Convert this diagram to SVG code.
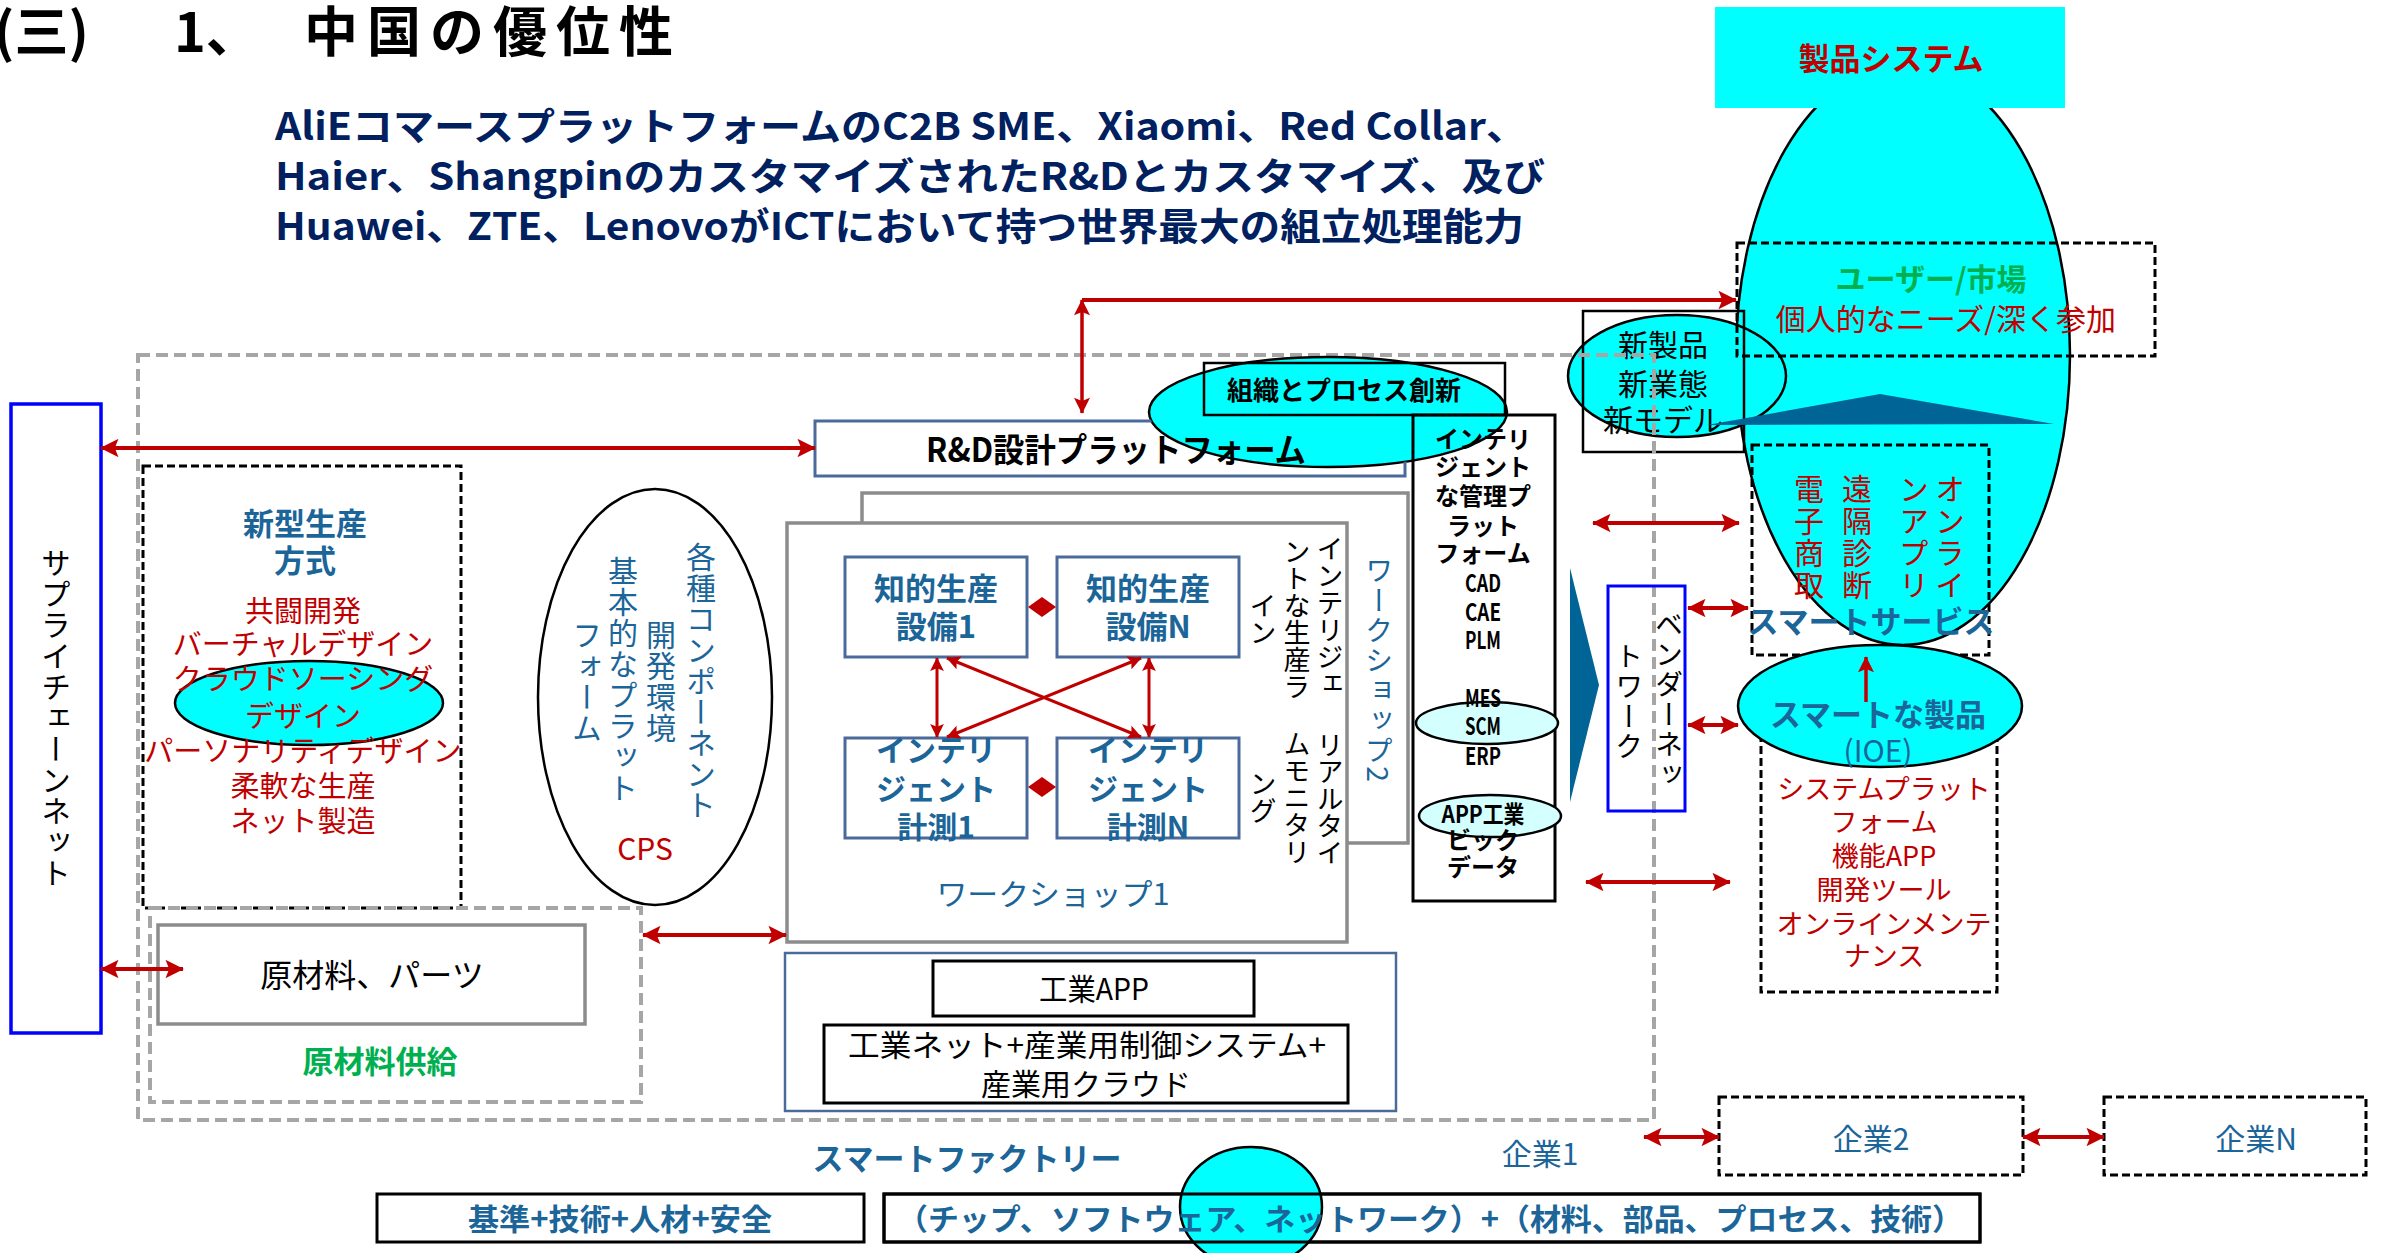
<svg xmlns="http://www.w3.org/2000/svg" width="2382" height="1253" viewBox="0 0 2382 1253">
<style>
text{font-family:"Noto Sans CJK JP","Noto Sans",sans-serif;}
.b{font-weight:bold}
.blue{fill:#1b6599}
.red{fill:#c00000}
.green{fill:#00b050}
.navy{fill:#002060}
.k{fill:#000}
.v{writing-mode:vertical-rl}
.m{text-anchor:middle}
.gdash{fill:none;stroke:#a6a6a6;stroke-width:4;stroke-dasharray:12 6}
.kdash{fill:none;stroke:#000;stroke-width:3;stroke-dasharray:8 4}
.cyan{fill:#00ffff;stroke:#000;stroke-width:2.5}
.lcyan{fill:#d4ffff;stroke:#000;stroke-width:2.5}
.sb{fill:#fff;stroke:#4a6b9a;stroke-width:3}
.gr{fill:#fff;stroke:#8c8c8c;stroke-width:3.5}
.kb{fill:#fff;stroke:#000;stroke-width:3}
.conn{stroke:#c00000;fill:none}
</style>
<defs>
<marker id="ah" viewBox="0 0 10 10" refX="9.5" refY="5" markerWidth="5" markerHeight="4.6" markerUnits="strokeWidth" orient="auto-start-reverse">
<path d="M0,0 L10,5 L0,10 L2,5 z" fill="#c00000"/>
</marker>
<mask id="mRD"><rect x="0" y="0" width="2382" height="1253" fill="#fff"/><ellipse cx="1328" cy="412" rx="179" ry="55" fill="#000"/></mask>
</defs>
<rect x="0" y="0" width="2382" height="1253" fill="#fff"/>

<g id="title">
<text class="b k" font-size="54" y="52"><tspan x="-6">(三)</tspan><tspan x="174">1、</tspan><tspan x="304" letter-spacing="9">中国の優位性</tspan></text>
</g>

<g id="subtitle" class="navy b" font-size="38">
<text x="275" y="140" textLength="1252" lengthAdjust="spacingAndGlyphs">AliEコマースプラットフォームのC2B SME、Xiaomi、Red Collar、</text>
<text x="275" y="190" textLength="1270" lengthAdjust="spacingAndGlyphs">Haier、ShangpinのカスタマイズされたR&amp;Dとカスタマイズ、及び</text>
<text x="275" y="240" textLength="1249" lengthAdjust="spacingAndGlyphs">Huawei、ZTE、LenovoがICTにおいて持つ世界最大の組立処理能力</text>
</g>

<g id="product-system">
<ellipse cx="1903" cy="355" rx="167" ry="290" class="cyan"/>
<rect x="1715" y="7" width="350" height="101" fill="#00ffff"/>
<text x="1891" y="70" class="red b m" font-size="31">製品システム</text>
</g>

<g id="new-model">
<ellipse cx="1677" cy="376" rx="109" ry="61" class="cyan"/>
<rect x="1583" y="311" width="161" height="141" fill="none" stroke="#000" stroke-width="2.5"/>
<text x="1663" y="356" class="k m" font-size="30">新製品</text>
<text x="1663" y="395" class="k m" font-size="30">新業態</text>
<text x="1663" y="431" class="k m" font-size="30">新モデル</text>
</g>

<g id="user-market">
<rect x="1737" y="243" width="418" height="113" class="kdash"/>
<text x="1931" y="290" class="green b m" font-size="30">ユーザー/市場</text>
<text x="1946" y="330" class="red m" font-size="30">個人的なニーズ/深く参加</text>
</g>

<g id="up-chevron">
<polygon points="1707,425 1880,394 2054,424" fill="#006496"/>
</g>

<g id="smart-service">
<rect x="1752" y="445" width="237" height="210" class="kdash"/>
<text x="1809" y="474" class="red v" font-size="30" letter-spacing="2">電子商取</text>
<text x="1857" y="474" class="red v" font-size="30" letter-spacing="2">遠隔診断</text>
<text x="1914" y="474" class="red v" font-size="30" letter-spacing="2">ンアプリ</text>
<text x="1950" y="474" class="red v" font-size="30" letter-spacing="2">オンライ</text>
<text x="1871" y="633" class="blue b m" font-size="31">スマートサービス</text>
</g>

<g id="smart-product">
<rect x="1761" y="694" width="236" height="298" class="kdash"/>
<ellipse cx="1880" cy="706" rx="142" ry="61" class="cyan"/>
<text x="1878" y="726" class="blue b m" font-size="31">スマートな製品</text>
<text x="1878" y="762" class="blue m" font-size="30">(IOE)</text>
<text x="1884" y="799" class="red m" font-size="27">システムプラット</text>
<text x="1884" y="832" class="red m" font-size="27">フォーム</text>
<text x="1884" y="866" class="red m" font-size="27">機能APP</text>
<text x="1884" y="900" class="red m" font-size="27">開発ツール</text>
<text x="1884" y="934" class="red m" font-size="27">オンラインメンテ</text>
<text x="1884" y="966" class="red m" font-size="27">ナンス</text>
</g>

<g id="smart-factory">
<rect x="138" y="355" width="1516" height="765" class="gdash"/>
<text x="967" y="1170" class="blue b m" font-size="31">スマートファクトリー</text>
</g>

<g id="supply-chain">
<rect x="11" y="404" width="90" height="629" fill="#fff" stroke="#0000ff" stroke-width="3.5"/>
<text x="56" y="718" class="k v m" font-size="30" letter-spacing="1">サプライチェーンネット</text>
</g>

<g id="new-production">
<rect x="143" y="466" width="318" height="442" class="kdash"/>
<text x="305" y="535" class="blue b m" font-size="31">新型生産</text>
<text x="305" y="572" class="blue b m" font-size="31">方式</text>
<ellipse cx="309" cy="703" rx="134" ry="42" class="cyan"/>
<text x="303" y="622" class="red m" font-size="29">共闘開発</text>
<text x="303" y="655" class="red m" font-size="29">バーチャルデザイン</text>
<text x="303" y="690" class="red m" font-size="29">クラウドソーシング</text>
<text x="303" y="727" class="red m" font-size="29">デザイン</text>
<text x="303" y="762" class="red m" font-size="29">パーソナリティデザイン</text>
<text x="303" y="797" class="red m" font-size="29">柔軟な生産</text>
<text x="303" y="832" class="red m" font-size="29">ネット製造</text>
</g>

<g id="cps">
<ellipse cx="655" cy="697" rx="117" ry="208" fill="#fff" stroke="#000" stroke-width="2.5"/>
<text x="701" y="681" class="blue v m" font-size="30" letter-spacing="1">各種コンポーネント</text>
<text x="661" y="682" class="blue v m" font-size="30" letter-spacing="1">開発環境</text>
<text x="623" y="680" class="blue v m" font-size="30" letter-spacing="1">基本的なプラット</text>
<text x="587" y="682" class="blue v m" font-size="30" letter-spacing="1">フォーム</text>
<text x="645" y="860" class="red m" font-size="30">CPS</text>
</g>

<g id="raw-material">
<rect x="150" y="908" width="491" height="194" class="gdash"/>
<rect x="158" y="925" width="427" height="99" class="gr"/>
<text x="372" y="987" class="k m" font-size="32">原材料、パーツ</text>
<text x="380" y="1073" class="green b m" font-size="31">原材料供給</text>
</g>

<g id="org-innovation">
<ellipse cx="1328" cy="412" rx="179" ry="55" class="cyan"/>
<rect x="1204" y="363" width="301" height="52" fill="none" stroke="#000" stroke-width="2.5"/>
<text x="1344" y="400" class="k b m" font-size="26">組織とプロセス創新</text>
</g>

<g id="rd-platform">
<rect x="815" y="421" width="590" height="55" fill="none" stroke="#4a6b9a" stroke-width="3" mask="url(#mRD)"/>
<text x="1116" y="462" class="k b m" font-size="33" textLength="380" lengthAdjust="spacingAndGlyphs">R&amp;D設計プラットフォーム</text>
</g>

<g id="management-platform">
<rect x="1413" y="415" width="142" height="486" fill="none" stroke="#000" stroke-width="3"/>
<ellipse cx="1487" cy="723" rx="71" ry="21" class="lcyan"/>
<ellipse cx="1490" cy="816" rx="71" ry="21" class="lcyan"/>
<g class="k b m" font-size="24">
<text x="1483" y="448">インテリ</text>
<text x="1483" y="476">ジェント</text>
<text x="1483" y="505">な管理プ</text>
<text x="1483" y="535">ラット</text>
<text x="1483" y="562">フォーム</text>
<text x="1483" y="592" textLength="36" lengthAdjust="spacingAndGlyphs">CAD</text>
<text x="1483" y="621" textLength="36" lengthAdjust="spacingAndGlyphs">CAE</text>
<text x="1483" y="649" textLength="36" lengthAdjust="spacingAndGlyphs">PLM</text>
<text x="1483" y="707" textLength="36" lengthAdjust="spacingAndGlyphs">MES</text>
<text x="1483" y="735" textLength="36" lengthAdjust="spacingAndGlyphs">SCM</text>
<text x="1483" y="765" textLength="36" lengthAdjust="spacingAndGlyphs">ERP</text>
<text x="1483" y="823" textLength="83" lengthAdjust="spacingAndGlyphs">APP工業</text>
<text x="1483" y="849">ビック</text>
<text x="1483" y="876">データ</text>
</g>
</g>

<g id="workshop2">
<rect x="862" y="493" width="546" height="350" class="gr"/>
<text x="1379" y="670" class="blue v m" font-size="28" letter-spacing="2">ワークショップ2</text>
</g>

<g id="workshop1">
<rect x="787" y="523" width="560" height="419" class="gr"/>
<text x="1053" y="905" class="blue m" font-size="30" textLength="233" lengthAdjust="spacingAndGlyphs">ワークショップ1</text>
<g class="k v m" font-size="27">
<text x="1330" y="616">インテリジェ</text>
<text x="1297" y="619">ントな生産ラ</text>
<text x="1263" y="619">イン</text>
<text x="1330" y="799">リアルタイ</text>
<text x="1297" y="798">ムモニタリ</text>
<text x="1263" y="797">ング</text>
</g>
</g>

<g id="equipment1">
<rect x="845" y="557" width="182" height="100" class="sb"/>
<text x="936" y="600" class="blue b m" font-size="31">知的生産</text>
<text x="936" y="638" class="blue b m" font-size="31">設備1</text>
</g>
<g id="equipmentN">
<rect x="1057" y="557" width="182" height="100" class="sb"/>
<text x="1148" y="600" class="blue b m" font-size="31">知的生産</text>
<text x="1148" y="638" class="blue b m" font-size="31">設備N</text>
</g>
<g id="measure1">
<rect x="845" y="738" width="182" height="100" class="sb"/>
<text x="936" y="761" class="blue b m" font-size="30">インテリ</text>
<text x="936" y="800" class="blue b m" font-size="30">ジェント</text>
<text x="936" y="838" class="blue b m" font-size="30">計測1</text>
</g>
<g id="measureN">
<rect x="1057" y="738" width="182" height="100" class="sb"/>
<text x="1148" y="761" class="blue b m" font-size="30">インテリ</text>
<text x="1148" y="800" class="blue b m" font-size="30">ジェント</text>
<text x="1148" y="838" class="blue b m" font-size="30">計測N</text>
</g>

<g id="industrial-platform">
<rect x="785" y="953" width="611" height="158" fill="#fff" stroke="#4a6b9a" stroke-width="2.5"/>
<rect x="933" y="961" width="321" height="55" class="kb"/>
<text x="1094" y="1000" class="k m" font-size="30" textLength="110" lengthAdjust="spacingAndGlyphs">工業APP</text>
<rect x="824" y="1025" width="524" height="78" class="kb"/>
<text x="1087" y="1056" class="k m" font-size="30" textLength="478" lengthAdjust="spacingAndGlyphs">工業ネット+産業用制御システム+</text>
<text x="1086" y="1095" class="k m" font-size="30">産業用クラウド</text>
</g>

<g id="chevron-right">
<polygon points="1570,568 1599,685 1570,802" fill="#006496"/>
</g>

<g id="vendor-network">
<rect x="1608" y="586" width="77" height="225" fill="none" stroke="#0000ff" stroke-width="3"/>
<text x="1669" y="700" class="k v m" font-size="28" letter-spacing="2">ベンダーネッ</text>
<text x="1629" y="702" class="k v m" font-size="28" letter-spacing="2">トワーク</text>
</g>

<g id="enterprise1">
<text x="1540" y="1165" class="blue m" font-size="30">企業1</text>
</g>
<g id="enterprise2">
<rect x="1719" y="1097" width="304" height="78" class="kdash"/>
<text x="1871" y="1150" class="blue m" font-size="30">企業2</text>
</g>
<g id="enterpriseN">
<rect x="2104" y="1097" width="262" height="78" class="kdash"/>
<text x="2256" y="1150" class="blue m" font-size="30">企業N</text>
</g>

<g id="foundation">
<rect x="377" y="1194" width="487" height="48" class="kb"/>
<text x="620" y="1230" class="blue b m" font-size="30" textLength="304" lengthAdjust="spacingAndGlyphs">基準+技術+人材+安全</text>
</g>
<g id="components">
<rect x="884" y="1194" width="1096" height="48" class="kb"/>
<ellipse cx="1251" cy="1207" rx="71" ry="60" class="cyan"/>
<rect x="884" y="1194" width="1096" height="48" fill="none" stroke="#000" stroke-width="3"/>
<text x="897" y="1230" class="blue b" font-size="30" textLength="1066" lengthAdjust="spacingAndGlyphs">（チップ、ソフトウェア、ネットワーク）+（材料、部品、プロセス、技術）</text>
</g>

<g id="connectors" class="conn">
<line x1="101" y1="448" x2="815" y2="448" stroke-width="4" marker-start="url(#ah)" marker-end="url(#ah)"/>
<line x1="1082" y1="300" x2="1082" y2="413" stroke-width="3.5" marker-start="url(#ah)" marker-end="url(#ah)"/>
<line x1="1082" y1="300" x2="1736" y2="300" stroke-width="4" marker-end="url(#ah)"/>
<line x1="101" y1="969" x2="183" y2="969" stroke-width="4" marker-start="url(#ah)" marker-end="url(#ah)"/>
<line x1="643" y1="935" x2="786" y2="935" stroke-width="4" marker-start="url(#ah)" marker-end="url(#ah)"/>
<line x1="937" y1="658" x2="937" y2="737" stroke-width="3" marker-start="url(#ah)" marker-end="url(#ah)"/>
<line x1="1149" y1="658" x2="1149" y2="737" stroke-width="3" marker-start="url(#ah)" marker-end="url(#ah)"/>
<line x1="947" y1="658" x2="1141" y2="737" stroke-width="3" marker-start="url(#ah)" marker-end="url(#ah)"/>
<line x1="1141" y1="658" x2="947" y2="737" stroke-width="3" marker-start="url(#ah)" marker-end="url(#ah)"/>
<line x1="1593" y1="523" x2="1739" y2="523" stroke-width="4" marker-start="url(#ah)" marker-end="url(#ah)"/>
<line x1="1688" y1="608" x2="1748" y2="608" stroke-width="4" marker-start="url(#ah)" marker-end="url(#ah)"/>
<line x1="1688" y1="725" x2="1738" y2="725" stroke-width="4" marker-start="url(#ah)" marker-end="url(#ah)"/>
<line x1="1586" y1="882" x2="1730" y2="882" stroke-width="4" marker-start="url(#ah)" marker-end="url(#ah)"/>
<line x1="1866" y1="702" x2="1866" y2="657" stroke-width="3.5" marker-end="url(#ah)"/>
<line x1="1644" y1="1137" x2="1719" y2="1137" stroke-width="4" marker-start="url(#ah)" marker-end="url(#ah)"/>
<line x1="2023" y1="1137" x2="2104" y2="1137" stroke-width="4" marker-start="url(#ah)" marker-end="url(#ah)"/>
<polygon points="1028,607 1042,597 1056,607 1042,617" fill="#c00000" stroke="none"/>
<polygon points="1028,787 1042,777 1056,787 1042,797" fill="#c00000" stroke="none"/>
</g>
</svg>
